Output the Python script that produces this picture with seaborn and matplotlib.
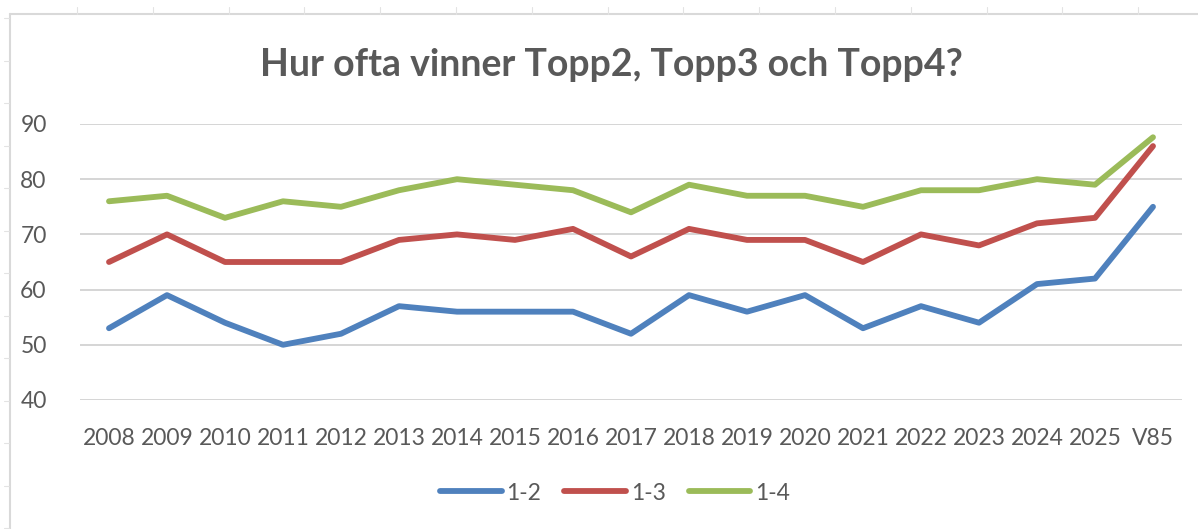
import numpy as np
import pandas as pd
import seaborn as sns
import matplotlib.pyplot as plt
from matplotlib.lines import Line2D

years = ['2008', '2009', '2010', '2011', '2012', '2013', '2014', '2015', '2016', '2017',
         '2018', '2019', '2020', '2021', '2022', '2023', '2024', '2025', 'V85']
topp2 = [53, 59, 54, 50, 52, 57, 56, 56, 56, 52, 59, 56, 59, 53, 57, 54, 61, 62, 75]
topp3 = [65, 70, 65, 65, 65, 69, 70, 69, 71, 66, 71, 69, 69, 65, 70, 68, 72, 73, 86]
topp4 = [76, 77, 73, 76, 75, 78, 80, 79, 78, 74, 79, 77, 77, 75, 78, 78, 80, 79, 87.6]
series_names = ['1-2', '1-3', '1-4']
colors = ['#4F81BD', '#C0504D', '#9BBB59']

df = pd.DataFrame({'year': years, '1-2': topp2, '1-3': topp3, '1-4': topp4})
long_df = df.melt(id_vars='year', var_name='serie', value_name='procent')
long_df['pos'] = long_df['year'].map({y: i for i, y in enumerate(years)})

sns.set_style('white')
plt.rcParams['font.family'] = ['Lato', 'DejaVu Sans']
grey = '#595959'

fig = plt.figure(figsize=(11.98, 5.29), dpi=100)
ax = fig.add_axes([80 / 1198, 1 - 400 / 529, 1102 / 1198, 276 / 529])

sns.lineplot(data=long_df, x='pos', y='procent', hue='serie', hue_order=series_names,
             palette=colors, linewidth=4.2, ax=ax, legend=False,
             solid_capstyle='round', solid_joinstyle='round')

ax.set_xlim(-0.5, len(years) - 0.5)
ax.set_ylim(40, 90)
ax.set_yticks([40, 50, 60, 70, 80, 90])
ax.set_xticks(range(len(years)))
ax.set_xticklabels(years)
ax.yaxis.grid(True, color='#D5D5D5', linewidth=1.4)
ax.set_axisbelow(True)
for s in ax.spines.values():
    s.set_visible(False)
ax.tick_params(axis='both', length=0, labelsize=16.5, labelcolor=grey)
ax.tick_params(axis='x', pad=20)
ax.tick_params(axis='y', pad=24)
ax.set_xlabel('')
ax.set_ylabel('')

fig.text(0.51, 1 - 65 / 529, 'Hur ofta vinner Topp2, Topp3 och Topp4?', ha='center', va='center',
         fontsize=27, fontweight='bold', color=grey)

handles = [Line2D([], [], color=c, linewidth=4.2, solid_capstyle='round') for c in colors]
fig.legend(handles, series_names, loc='center', bbox_to_anchor=(615 / 1198, 1 - 493 / 529),
           ncol=3, frameon=False, fontsize=16.5, labelcolor=grey, handlelength=2.7,
           handletextpad=0.2, columnspacing=1.0)

# chart area border and surrounding sheet cells
W, H = 1198, 529
edge = '#D9D9D9'
fig.add_artist(Line2D([10 / W, 10 / W], [0, 1 - 14 / H], color=edge, linewidth=1.5, transform=fig.transFigure))
fig.add_artist(Line2D([10 / W, 1], [1 - 14 / H, 1 - 14 / H], color=edge, linewidth=1.5, transform=fig.transFigure))
for cx in np.arange(77, W, 75.8):
    fig.add_artist(Line2D([cx / W, cx / W], [1 - 14 / H, 1 - 7 / H], color='#E3E3E3', linewidth=0.8, transform=fig.transFigure))
for ry in np.arange(18, H, 42.5):
    fig.add_artist(Line2D([4 / W, 9 / W], [1 - ry / H, 1 - ry / H], color='#E3E3E3', linewidth=0.8, transform=fig.transFigure))

fig.savefig('out.png', dpi=100)
